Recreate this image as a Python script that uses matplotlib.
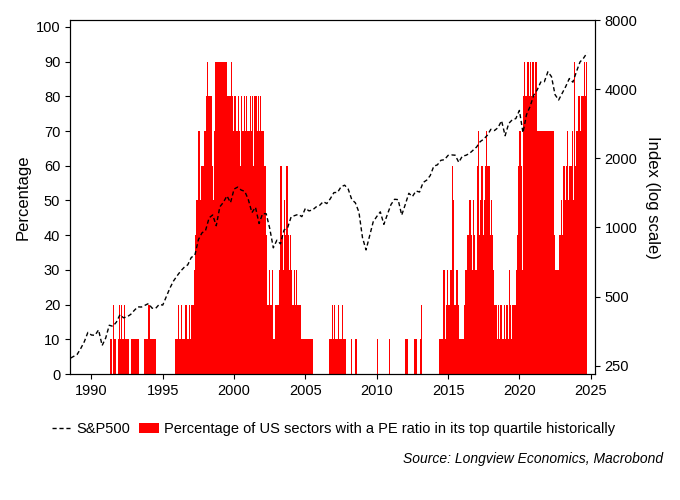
import numpy as np
import matplotlib
matplotlib.use('Agg')
import matplotlib.pyplot as plt
from matplotlib.ticker import FixedLocator, NullLocator

plt.rcParams['font.family'] = ['Liberation Sans', 'DejaVu Sans']

# share of US sectors with PE in top quartile (%), monthly
pct = {
    1989: [0]*12,
    1990: [0]*12,
    1991: [0, 0, 0, 0, 10, 0, 20, 10, 10, 0, 10, 20],
    1992: [10, 20, 10, 20, 10, 10, 10, 10, 0, 10, 10, 10],
    1993: [10, 10, 10, 10, 0, 0, 0, 0, 10, 10, 10, 10],
    1994: [20, 10, 10, 10, 10, 10, 0, 0, 0, 0, 0, 0],
    1995: [0, 0, 0, 0, 0, 0, 0, 0, 0, 0, 10, 10],
    1996: [10, 20, 10, 20, 10, 10, 10, 20, 10, 10, 20, 10],
    1997: [20, 20, 30, 40, 50, 50, 70, 50, 60, 60, 60, 70],
    1998: [80, 90, 80, 80, 80, 60, 50, 70, 90, 90, 90, 90],
    1999: [90, 90, 90, 90, 90, 90, 80, 80, 80, 90, 80, 70],
    2000: [80, 80, 70, 80, 70, 60, 80, 70, 80, 70, 80, 70],
    2001: [70, 80, 70, 80, 60, 80, 80, 70, 80, 70, 80, 70],
    2002: [70, 60, 60, 40, 20, 30, 20, 20, 30, 10, 20, 20],
    2003: [20, 20, 30, 60, 40, 30, 50, 40, 60, 40, 30, 40],
    2004: [30, 20, 30, 20, 30, 20, 20, 20, 10, 10, 10, 10],
    2005: [10, 10, 10, 10, 10, 10, 0, 0, 0, 0, 0, 0],
    2006: [0, 0, 0, 0, 0, 0, 0, 0, 10, 10, 20, 10],
    2007: [20, 10, 10, 20, 10, 10, 10, 20, 10, 10, 0, 0],
    2008: [0, 0, 10, 0, 0, 0, 10, 0, 0, 0, 0, 0],
    2009: [0, 0, 0, 0, 0, 0, 0, 0, 0, 0, 0, 0],
    2010: [10, 0, 0, 0, 0, 0, 0, 0, 0, 0, 10, 0],
    2011: [0, 0, 0, 0, 0, 0, 0, 0, 0, 0, 0, 0],
    2012: [10, 10, 0, 0, 0, 0, 0, 10, 10, 10, 0, 0],
    2013: [10, 20, 0, 0, 0, 0, 0, 0, 0, 0, 0, 0],
    2014: [0, 0, 0, 0, 10, 10, 10, 10, 30, 10, 20, 30],
    2015: [20, 20, 30, 60, 50, 20, 20, 30, 20, 10, 10, 10],
    2016: [10, 20, 30, 30, 40, 40, 50, 40, 30, 50, 40, 30],
    2017: [60, 70, 40, 50, 60, 40, 50, 60, 70, 60, 60, 40],
    2018: [50, 40, 30, 20, 20, 10, 20, 10, 20, 10, 10, 20],
    2019: [10, 20, 10, 30, 20, 10, 20, 20, 20, 30, 40, 60],
    2020: [70, 60, 30, 80, 90, 80, 90, 90, 80, 90, 80, 90],
    2021: [80, 90, 90, 70, 70, 70, 70, 70, 70, 70, 70, 70],
    2022: [70, 70, 70, 70, 70, 40, 30, 30, 30, 40, 40, 50],
    2023: [40, 60, 50, 60, 70, 50, 60, 60, 70, 50, 90, 60],
    2024: [70, 80, 80, 70, 80, 80, 90, 80, 90],
}

# S&P500, quarter ends
spx = {
    1989: [297, 318, 349, 340], 1990: [339, 358, 306, 330],
    1991: [375, 371, 387, 417], 1992: [404, 408, 418, 435],
    1993: [451, 450, 458, 466], 1994: [445, 444, 462, 459],
    1995: [500, 544, 584, 615], 1996: [645, 670, 687, 740],
    1997: [757, 885, 947, 970], 1998: [1101, 1133, 1017, 1229],
    1999: [1286, 1372, 1282, 1469], 2000: [1498, 1454, 1436, 1320],
    2001: [1160, 1224, 1040, 1148], 2002: [1147, 989, 815, 880],
    2003: [848, 974, 996, 1112], 2004: [1126, 1140, 1114, 1212],
    2005: [1180, 1191, 1228, 1248], 2006: [1295, 1270, 1335, 1418],
    2007: [1420, 1503, 1527, 1468], 2008: [1322, 1280, 1166, 903],
    2009: [798, 919, 1057, 1115], 2010: [1169, 1031, 1141, 1258],
    2011: [1326, 1321, 1131, 1258], 2012: [1408, 1362, 1441, 1426],
    2013: [1569, 1606, 1682, 1848], 2014: [1872, 1960, 1972, 2059],
    2015: [2068, 2063, 1920, 2044], 2016: [2060, 2099, 2168, 2239],
    2017: [2363, 2423, 2519, 2674], 2018: [2641, 2718, 2914, 2507],
    2019: [2834, 2942, 2977, 3231], 2020: [2585, 3100, 3363, 3756],
    2021: [3973, 4298, 4308, 4766], 2022: [4530, 3785, 3586, 3840],
    2023: [4109, 4450, 4288, 4770], 2024: [5254, 5460, 5762],
}

bx, by = [], []
for yr, vals in pct.items():
    for m, v in enumerate(vals):
        bx.append(yr + m / 12)
        by.append(v)

lx, ly = [1988.55, 1989.0], [270, 280]
for yr, vals in spx.items():
    for q, v in enumerate(vals):
        lx.append(yr + (q + 1) * 0.25)
        ly.append(v)

fig = plt.figure(figsize=(6.8, 5), dpi=100)
ax = fig.add_axes([0.103, 0.252, 0.772, 0.708])
ax.bar(bx, by, width=1/12, align='edge', color='#ff0000', edgecolor='none',
       label='Percentage of US sectors with a PE ratio in its top quartile historically')
ax.set_xlim(1988.5, 2025.3)
ax.set_ylim(0, 102)
ax.set_yticks(range(0, 101, 10))
ax.set_xticks(range(1990, 2026, 5))
ax.set_ylabel('Percentage', fontsize=12)
ax.tick_params(labelsize=10.5)

ax2 = ax.twinx()
line, = ax2.plot(lx, ly, color='black', linestyle=(0, (3, 2)), linewidth=1, label='S&P500')
ax2.set_yscale('log')
ax2.set_ylim(230, 8000)
ax2.yaxis.set_major_locator(FixedLocator([250, 500, 1000, 2000, 4000, 8000]))
ax2.yaxis.set_minor_locator(NullLocator())
ax2.set_yticklabels(['250', '500', '1000', '2000', '4000', '8000'])
ax2.set_ylabel('Index (log scale)', fontsize=12, rotation=270, labelpad=16)
ax2.tick_params(labelsize=10.5)

h1, l1 = ax.get_legend_handles_labels()
fig.legend([line] + h1, ['S&P500'] + l1, loc='center', bbox_to_anchor=(0.49, 0.142),
           ncol=2, frameon=False, fontsize=10.5, handlelength=1.4, handletextpad=0.3,
           columnspacing=0.6)
fig.text(0.975, 0.075, 'Source: Longview Economics, Macrobond', ha='right',
         fontsize=10, style='italic')

fig.savefig('out.png')
